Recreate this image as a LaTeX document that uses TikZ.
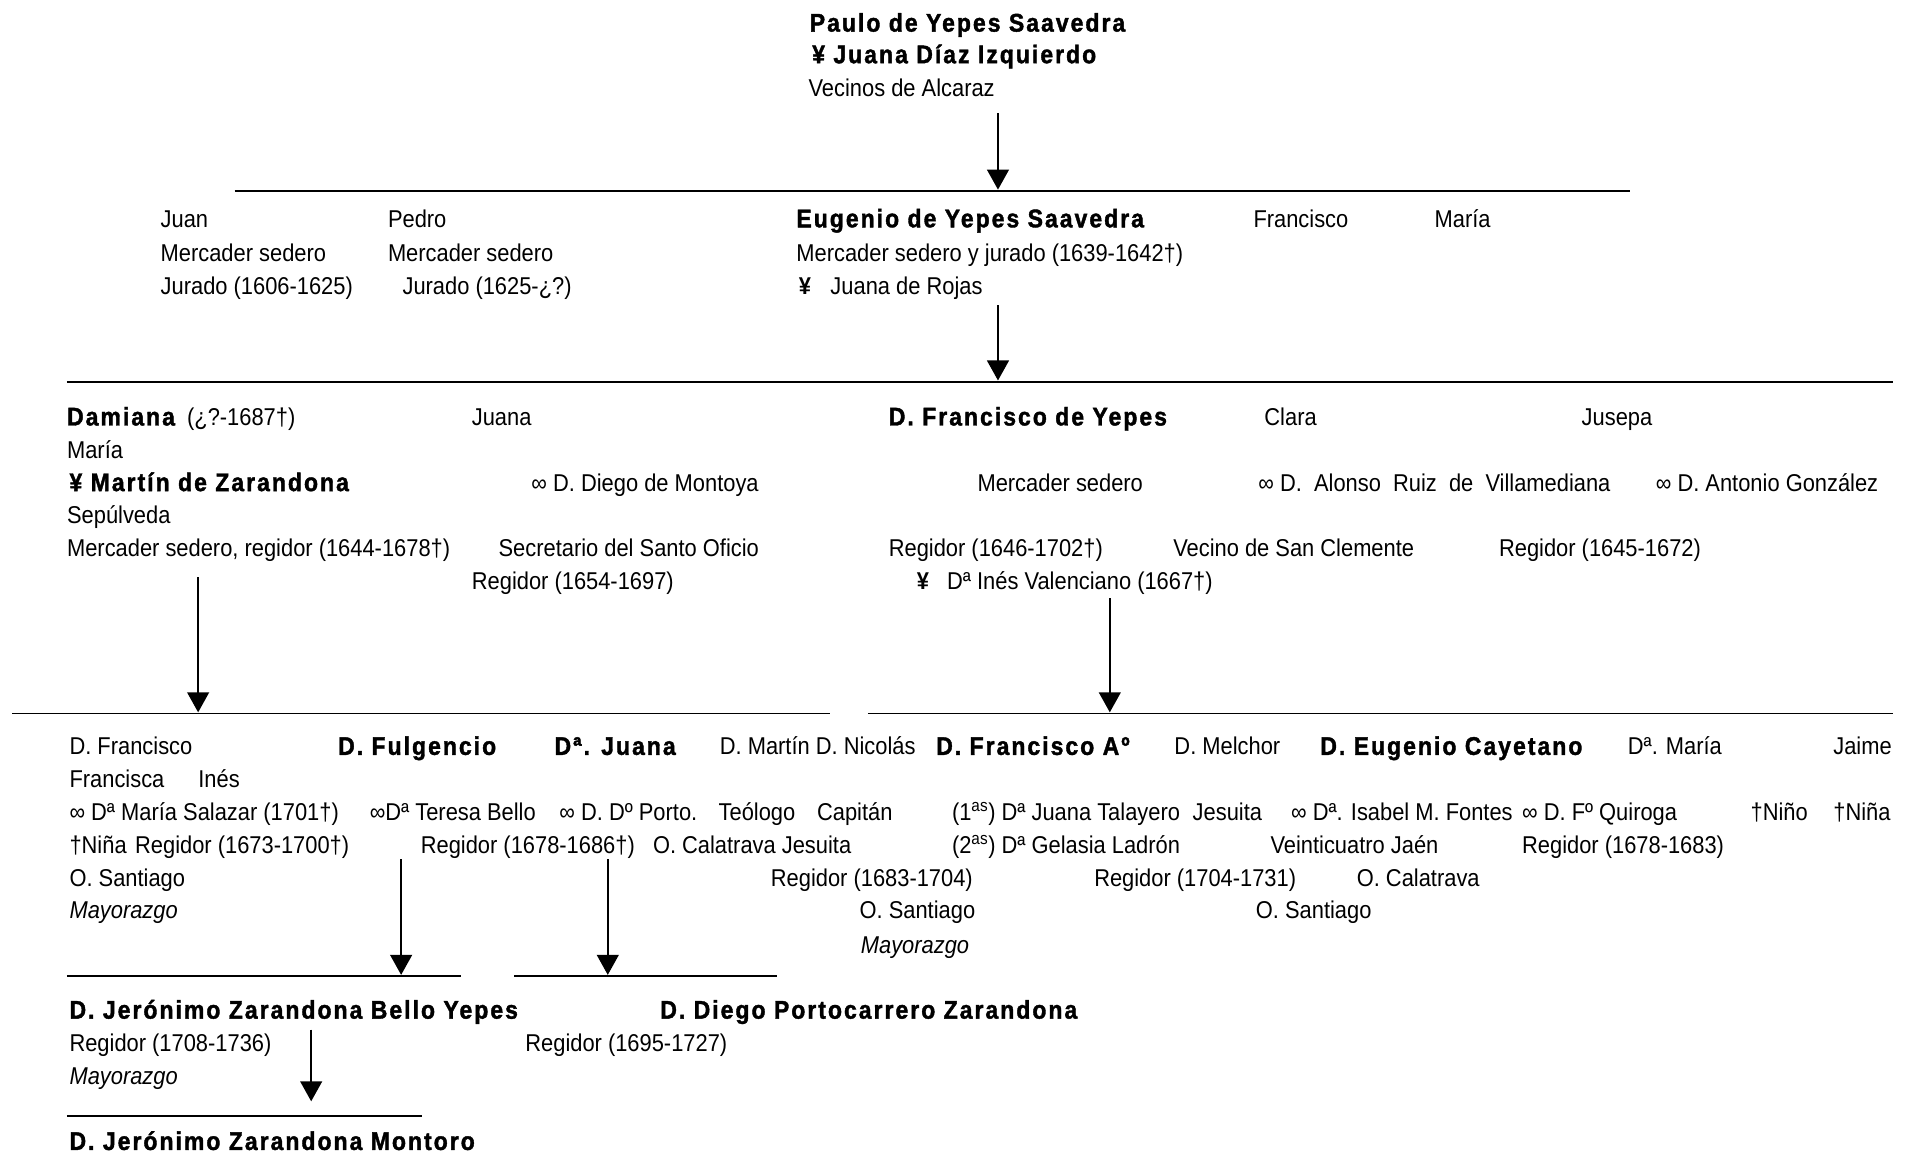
\documentclass[tikz,border=0pt]{standalone}
\usepackage{fontspec}
\setmainfont{Liberation Sans}[FakeStretch=0.9]
\newfontfamily\namefont{Liberation Sans}[FakeStretch=0.9,LetterSpace=7.9,FakeBold=1.5]
\usetikzlibrary{arrows.meta}

\newcommand\bnm[1]{{\fontsize{21}{24}\namefont\bfseries #1}}
\newcommand\casado{{\bfseries ¥}}

\tikzset{
  txt/.style={anchor=base west, inner sep=0pt, font=\fontsize{20}{24}\selectfont},
  nm/.style={txt, font=\fontsize{21}{24}\namefont\bfseries},
  rule/.style={line width=1.5pt},
  desc/.style={line width=1.4pt, -{Triangle[length=16.5pt,width=18pt]}}
}

\begin{document}
\begin{tikzpicture}[x=1pt,y=-1pt]
\useasboundingbox (0,0) rectangle (1568,950);

% Paulo y Juana
\node[nm] (paulo) at (666,26) {Paulo de Yepes Saavedra};
\node[nm] (juanaD) at (668,52) {¥ Juana Díaz Izquierdo};
\node[txt] (vecinos) at (665,79) {Vecinos de Alcaraz};

% hijos de Paulo
\node[txt] (juan) at (132,187) {Juan};
\node[txt] (juan2) at (132,215) {Mercader sedero};
\node[txt] (juan3) at (132,242) {Jurado (1606-1625)};
\node[txt] (pedro) at (319,187) {Pedro};
\node[txt] (pedro2) at (319,215) {Mercader sedero};
\node[txt] (pedro3) at (331,242) {Jurado (1625-¿?)};
\node[nm] (eugenio) at (655,187) {Eugenio de Yepes Saavedra};
\node[txt] (eugenio2) at (655,215) {Mercader sedero y jurado (1639-1642†)};
\node[txt] (eugenio3) at (657,242) {\casado\hspace{16pt}Juana de Rojas};
\node[txt] (francisco) at (1031,187) {Francisco};
\node[txt] (maria) at (1180,187) {María};

% hijos de Eugenio
\node[txt] (damiana) at (55,350) {\bnm{Damiana}\hspace{10pt}(¿?-1687†)};
\node[txt] (juanaM) at (388,350) {Juana};
\node[nm] (franciscoY) at (731,350) {D. Francisco de Yepes};
\node[txt] (clara) at (1040,350) {Clara};
\node[txt] (jusepa) at (1301,350) {Jusepa};
\node[txt] (damiana2) at (55,377) {María};
\node[nm] (martin) at (57,404) {¥ Martín de Zarandona};
\node[txt] (diego) at (437,404) {∞ D. Diego de Montoya};
\node[txt] (franciscoY2) at (804,404) {Mercader sedero};
\node[txt] (alonso) at (1035,404) {∞ D.\ \ Alonso\ \ Ruiz\ \ de\ \ Villamediana};
\node[txt] (antonio) at (1362,404) {∞ D. Antonio González};
\node[txt] (martin2) at (55,431) {Sepúlveda};
\node[txt] (martin3) at (55,458) {Mercader sedero, regidor (1644-1678†)};
\node[txt] (diego2) at (410,458) {Secretario del Santo Oficio};
\node[txt] (franciscoY3) at (731,458) {Regidor (1646-1702†)};
\node[txt] (alonso2) at (965,458) {Vecino de San Clemente};
\node[txt] (antonio2) at (1233,458) {Regidor (1645-1672)};
\node[txt] (diego3) at (388,485) {Regidor (1654-1697)};
\node[txt] (ines) at (754,485) {\casado\hspace{15pt}Dª Inés Valenciano (1667†)};

% nietos
\node[txt] (dfran) at (57,621) {D. Francisco};
\node[nm] (fulgencio) at (278,621) {D. Fulgencio};
\node[nm] (djuana) at (456,621) {Dª. Juana};
\node[txt] (dmartin) at (592,621) {D. Martín};
\node[txt] (dnicolas) at (671,621) {D. Nicolás};
\node[nm] (franA) at (770,621) {D. Francisco Aº};
\node[txt] (melchor) at (966,621) {D. Melchor};
\node[nm] (cayetano) at (1086,621) {D. Eugenio Cayetano};
\node[txt] (dmaria) at (1339,621) {Dª. María};
\node[txt] (jaime) at (1508,621) {Jaime};
\node[txt] (francisca) at (57,648) {Francisca};
\node[txt] (inesN) at (163,648) {Inés};

\node[txt] (salazar) at (57,675) {∞ Dª María Salazar (1701†)};
\node[txt] (bello) at (304,675) {∞Dª Teresa Bello};
\node[txt] (porto) at (460,675) {∞ D. Dº Porto.};
\node[txt] (teologo) at (591,675) {Teólogo};
\node[txt] (capitan) at (672,675) {Capitán};
\node[txt] (talayero) at (783,675) {(1\textsuperscript{as}) Dª Juana Talayero};
\node[txt] (jesuitaM) at (981,675) {Jesuita};
\node[txt] (fontes) at (1062,675) {∞ Dª. Isabel M. Fontes};
\node[txt] (quiroga) at (1252,675) {∞ D. Fº Quiroga};
\node[txt] (nino) at (1440,675) {†Niño};
\node[txt] (nina) at (1508,675) {†Niña};

\node[txt] (nina2) at (57,702) {†Niña};
\node[txt] (dfran2) at (111,702) {Regidor (1673-1700†)};
\node[txt] (fulgencio2) at (346,702) {Regidor (1678-1686†)};
\node[txt] (porto2) at (537,702) {O. Calatrava};
\node[txt] (jesuitaN) at (643,702) {Jesuita};
\node[txt] (ladron) at (783,702) {(2\textsuperscript{as}) Dª Gelasia Ladrón};
\node[txt] (melchor2) at (1045,702) {Veinticuatro Jaén};
\node[txt] (quiroga2) at (1252,702) {Regidor (1678-1683)};

\node[txt] (dfran3) at (57,729) {O. Santiago};
\node[txt] (franA2) at (634,729) {Regidor (1683-1704)};
\node[txt] (cayetano2) at (900,729) {Regidor (1704-1731)};
\node[txt] (melchor3) at (1116,729) {O. Calatrava};
\node[txt] (dfran4) at (57,756) {\itshape Mayorazgo};
\node[txt] (franA3) at (707,756) {O. Santiago};
\node[txt] (cayetano3) at (1033,756) {O. Santiago};
\node[txt] (franA4) at (708,784) {\itshape Mayorazgo};

% bisnietos
\node[nm] (jeronimo) at (57,838) {D. Jerónimo Zarandona Bello Yepes};
\node[nm] (diegoP) at (543,838) {D. Diego Portocarrero Zarandona};
\node[txt] (jeronimo2) at (57,865) {Regidor (1708-1736)};
\node[txt] (diegoP2) at (432,865) {Regidor (1695-1727)};
\node[txt] (jeronimo3) at (57,892) {\itshape Mayorazgo};
\node[nm] (montoro) at (57,946) {D. Jerónimo Zarandona Montoro};

% lineas de generacion
\draw[rule] (193,157) -- (1341,157);
\draw[rule] (55,314) -- (1557,314);
\draw[rule] (10,587) -- (683,587);
\draw[rule] (714,587) -- (1557,587);
\draw[rule] (55,803) -- (379,803);
\draw[rule] (423,803) -- (639,803);
\draw[rule] (55,918) -- (347,918);

\coordinate (a1) at (821,93);  \coordinate (b1) at (821,156);
\coordinate (a2) at (821,251); \coordinate (b2) at (821,313);
\coordinate (a3) at (163,475); \coordinate (b3) at (163,586);
\coordinate (a4) at (913,492); \coordinate (b4) at (913,586);
\coordinate (a5) at (330,707); \coordinate (b5) at (330,802);
\coordinate (a6) at (500,707); \coordinate (b6) at (500,802);
\coordinate (a7) at (256,847); \coordinate (b7) at (256,906);
\foreach \i in {1,...,7} \draw[desc] (a\i) -- (b\i);
\end{tikzpicture}
\end{document}
